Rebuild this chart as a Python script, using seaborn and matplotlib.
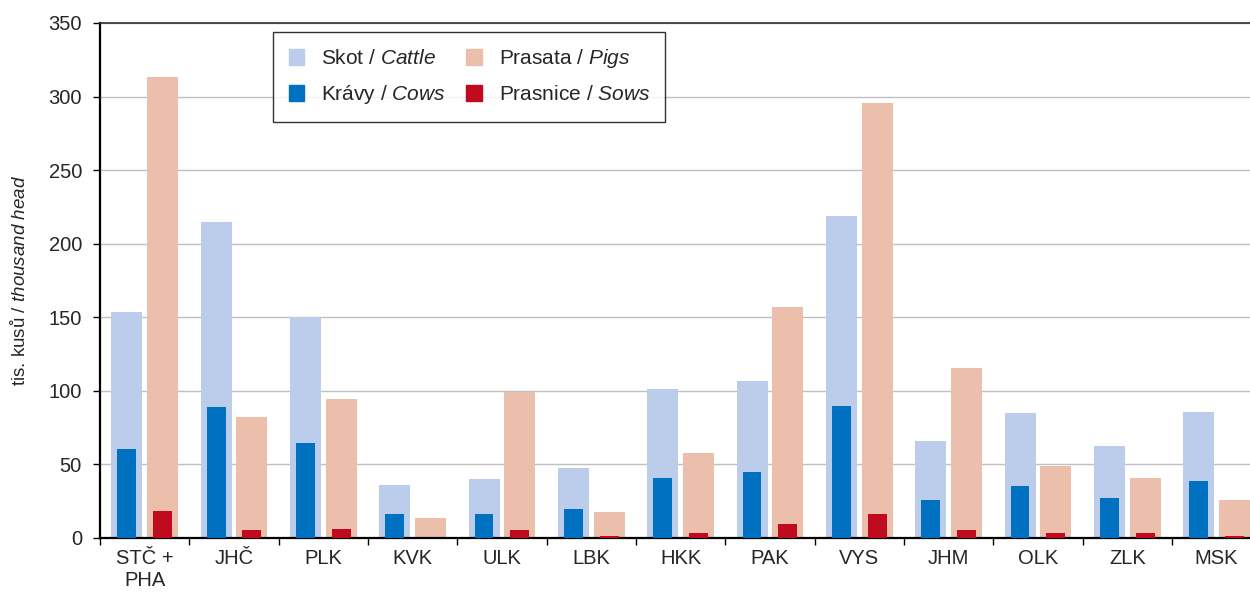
import numpy as np
import pandas as pd
import matplotlib.pyplot as plt
import seaborn as sns
from matplotlib.patches import Patch

REGIONS = ["STČ +\nPHA", "JHČ", "PLK", "KVK", "ULK", "LBK", "HKK",
           "PAK", "VYS", "JHM", "OLK", "ZLK", "MSK"]

CATTLE = [153.5, 215, 150, 36, 40, 47.5, 101.5, 107, 219, 66, 85, 62.5, 85.5]
PIGS   = [313.5, 82, 94.5, 13.5, 99, 17.5, 58, 157, 295.5, 115.5, 49, 41, 26]
COWS   = [60.5, 89, 64.5, 16.3, 16.3, 19.7, 40.5, 45, 89.5, 26, 35.3, 27.3, 38.7]
SOWS   = [18.3, 5.4, 6, 0.3, 5.4, 1.3, 3.5, 9.5, 16.5, 5.4, 3.6, 3.2, 1.5]

YTICKS = [0, 50, 100, 150, 200, 250, 300, 350]

C_CATTLE = "#BCCDEB"
C_PIGS = "#ECBFAC"
C_COWS = "#0070C0"
C_SOWS = "#C00A1E"

sns.set_theme(style="white")
plt.rcParams["font.family"] = ["Liberation Sans", "DejaVu Sans"]
plt.rcParams["mathtext.fontset"] = "custom"
plt.rcParams["mathtext.rm"] = "Liberation Sans"
plt.rcParams["mathtext.it"] = "Liberation Sans:italic"

back = pd.DataFrame({
    "region": REGIONS * 2,
    "kind": ["Skot"] * len(REGIONS) + ["Prasata"] * len(REGIONS),
    "value": CATTLE + PIGS,
})
front = pd.DataFrame({
    "region": REGIONS * 2,
    "kind": ["Krávy"] * len(REGIONS) + ["Prasnice"] * len(REGIONS),
    "value": COWS + SOWS,
})

fig = plt.figure(figsize=(12.5, 5.94), dpi=100)
ax = fig.add_axes([0.08, 0.0943, 0.929, 0.867])

# light bars behind (cattle, pigs), dark narrower bars in front (cows, sows)
sns.barplot(data=back, x="region", y="value", hue="kind",
            hue_order=["Skot", "Prasata"], palette=[C_CATTLE, C_PIGS],
            saturation=1, width=0.8, gap=0.13, errorbar=None, legend=False,
            linewidth=0, ax=ax, zorder=2)
sns.barplot(data=front, x="region", y="value", hue="kind",
            hue_order=["Krávy", "Prasnice"], palette=[C_COWS, C_SOWS],
            saturation=1, width=0.8, gap=0.475, errorbar=None, legend=False,
            linewidth=0, ax=ax, zorder=3)

ax.set_xlim(-0.5, len(REGIONS) - 0.5)
ax.set_ylim(0, 350)
ax.set_yticks(YTICKS)
ax.yaxis.grid(True, color="#C0C0C0", linewidth=1)
ax.set_axisbelow(True)

ax.set_xlabel("")
ax.set_ylabel(r"tis. kusů / $\mathit{thousand\ head}$", fontsize=13.5, labelpad=14)
ax.tick_params(axis="x", length=0, labelsize=14.5, pad=8)
ax.tick_params(axis="y", length=5, width=1, direction="out", left=True,
               labelsize=14.5, color="black", pad=8)
ax.set_xticks(np.arange(-0.5, len(REGIONS)), minor=True)
ax.tick_params(axis="x", which="minor", length=5, width=1, bottom=True,
               direction="out", color="black")

for s in ["left", "bottom"]:
    ax.spines[s].set_color("black")
    ax.spines[s].set_linewidth(1.6)
ax.spines["top"].set_color("#303030")
ax.spines["top"].set_linewidth(1.2)
ax.spines["right"].set_visible(False)

handles = [
    Patch(color=C_CATTLE, label=r"Skot / $\mathit{Cattle}$"),
    Patch(color=C_COWS, label=r"Krávy / $\mathit{Cows}$"),
    Patch(color=C_PIGS, label=r"Prasata / $\mathit{Pigs}$"),
    Patch(color=C_SOWS, label=r"Prasnice / $\mathit{Sows}$"),
]
leg = ax.legend(handles=handles, ncol=2, loc="upper left",
                bbox_to_anchor=(0.149, 0.983), borderaxespad=0, fontsize=15,
                frameon=True, fancybox=False, edgecolor="black",
                handlelength=0.75, handleheight=0.75, handletextpad=0.8,
                columnspacing=1.0, labelspacing=0.72, borderpad=0.75)
leg.get_frame().set_linewidth(1)

fig.savefig("out.png", dpi=100)
plt.close(fig)
